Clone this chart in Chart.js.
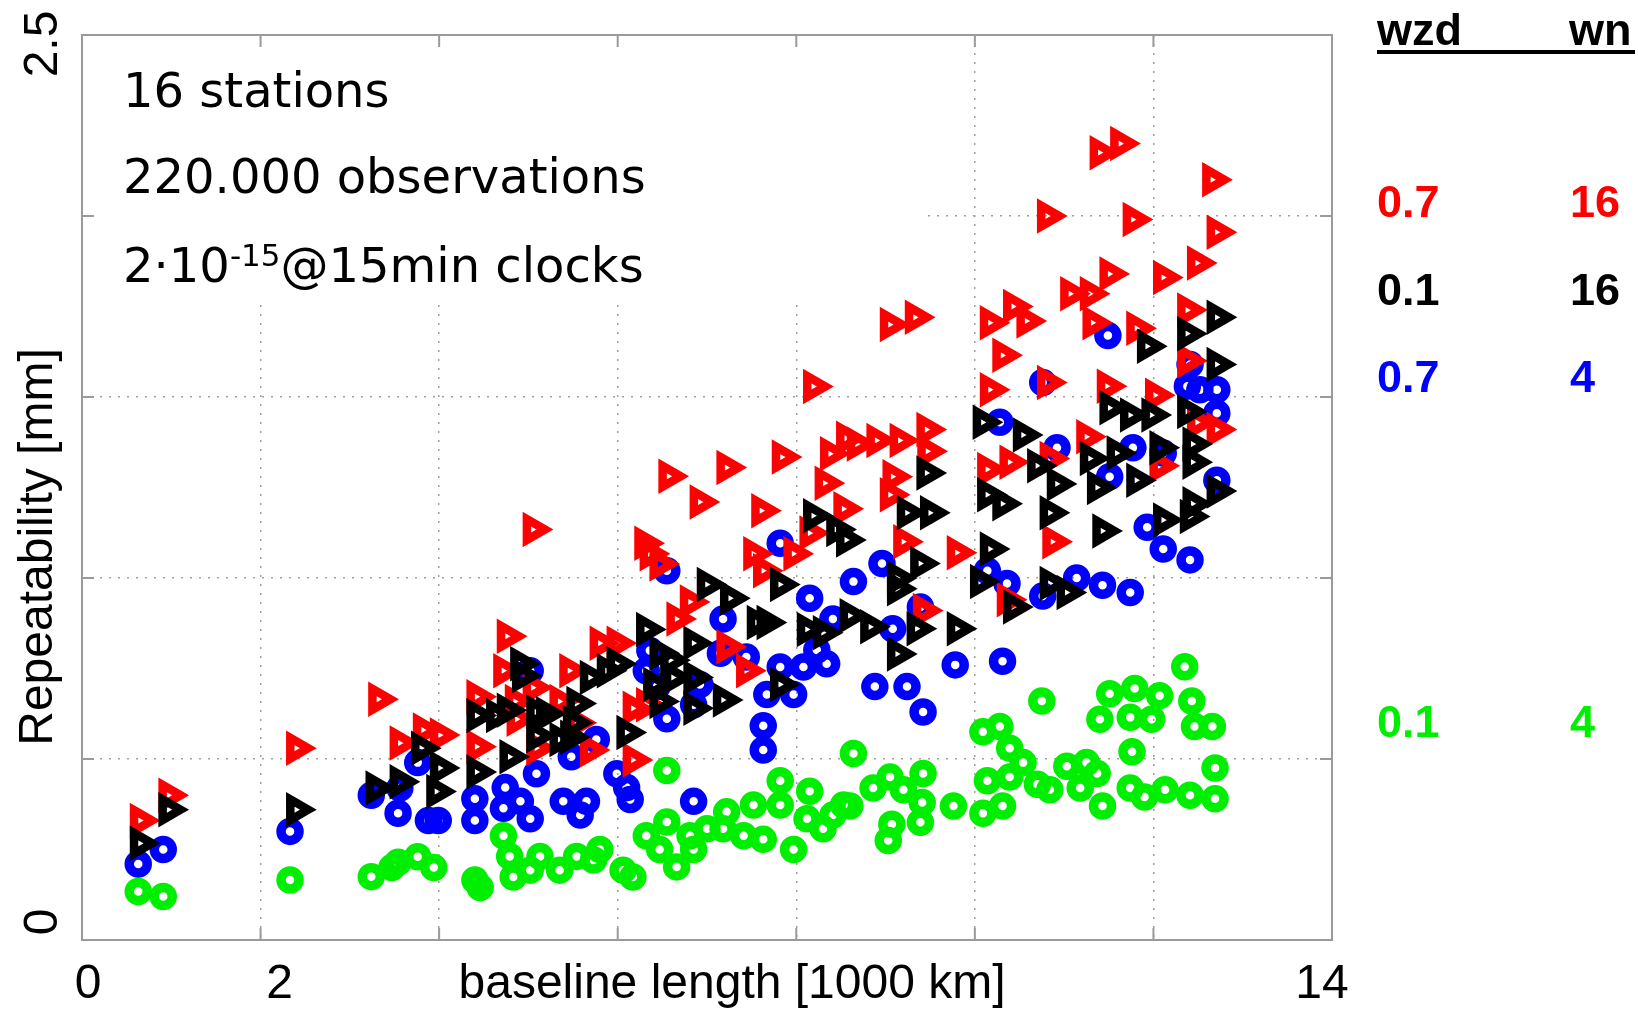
<!DOCTYPE html>
<html>
<head>
<meta charset="utf-8">
<script src="https://cdn.jsdelivr.net/npm/chart.js@4.4.1/dist/chart.umd.min.js"></script>
<style>
  html, body { margin: 0; padding: 0; background: #fff; }
  canvas { display: block; }
</style>
</head>
<body>
<canvas id="chart" width="1638" height="1009"></canvas>
<script>
// wzd 0.7 / wn 16
const redPts = [
  [0.65,0.33],[0.97,0.40],[2.40,0.53],[3.32,0.665],[3.56,0.544],[3.82,0.58],[4.01,0.566],[4.42,0.672],[4.42,0.534],
  [5.05,1.134],[6.57,1.281],[6.92,1.21],[7.22,1.305],[7.84,1.334],[7.61,1.186],[8.19,1.529],[8.38,1.343],[8.56,1.386],
  [8.32,1.262],[8.53,1.191],[6.30,1.096],[6.36,1.067],[6.47,1.039],[7.52,1.067],[7.63,1.02],[7.97,1.067],[8.15,1.124],
  [4.76,0.839],[4.72,0.744],[4.85,0.659],[5.05,0.697],[5.46,0.744],[5.35,0.659],[5.80,0.82],[5.99,0.82],[6.17,0.64],
  [6.17,0.497],[5.69,0.525],[6.81,0.934],[6.66,0.887],[7.22,0.81],[7.44,0.744],
  [4.87,0.61],[5.09,0.53],[6.32,0.65],[5.54,0.60],
  [11.40,2.175],[11.63,2.20],[12.66,2.10],[10.81,2.00],[11.77,1.99],[12.71,1.955],[12.49,1.87],[12.11,1.83],[11.51,1.84],
  [11.07,1.785],[11.29,1.785],[9.05,1.70],[9.33,1.72],[10.17,1.705],[10.43,1.75],[10.58,1.71],[10.31,1.615],[11.32,1.705],
  [11.81,1.69],[12.38,1.74],[10.81,1.54],[10.17,1.52],[11.48,1.53],[12.02,1.505],[12.38,1.60],[12.49,1.43],[12.71,1.41],
  [9.46,1.41],[9.16,1.38],[8.90,1.38],[8.68,1.37],[9.47,1.35],[9.08,1.28],[10.14,1.30],[10.39,1.32],[11.25,1.39],
  [10.84,1.33],[12.07,1.31],[9.05,1.23],[9.80,1.07],[9.42,0.91],[10.87,1.10],[10.36,0.94],[9.20,1.10]
];
// wzd 0.1 / wn 16
const blackPts = [
  [0.65,0.267],[0.97,0.36],[2.40,0.36],[3.29,0.42],[3.56,0.437],[3.80,0.53],[4.01,0.475],[3.97,0.41],[4.42,0.62],[4.42,0.464],
  [4.64,0.62],[4.91,0.763],[5.09,0.63],[4.79,0.506],[5.09,0.564],[5.35,0.554],[5.50,0.60],[5.69,0.725],[5.88,0.744],
  [6.10,0.573],[5.99,0.763],[6.32,0.858],[6.47,0.792],[6.47,0.659],[6.62,0.725],[6.85,0.82],[6.85,0.725],[6.85,0.64],
  [7.18,0.663],[7.00,0.982],[7.26,0.944],[7.56,0.877],[7.82,0.982],[7.67,0.877],[8.12,0.858],[7.82,0.706],[8.19,1.172],
  [8.45,1.134],[8.56,1.105],[8.60,0.896],[8.30,0.849],[6.40,0.706],
  [4.93,0.73],[4.76,0.635],[5.20,0.625],[5.54,0.653],[5.47,0.56],[6.59,0.773],
  [12.71,1.72],[12.38,1.675],[11.93,1.64],[12.71,1.59],[11.51,1.47],[11.74,1.45],[11.98,1.45],[12.38,1.46],[10.09,1.43],
  [10.54,1.395],[9.46,1.29],[12.44,1.37],[12.07,1.36],[12.44,1.32],[11.29,1.33],[11.59,1.345],[10.70,1.31],[10.92,1.26],
  [9.24,1.18],[9.50,1.18],[10.14,1.23],[10.31,1.205],[11.37,1.25],[11.81,1.27],[12.44,1.205],[12.71,1.24],
  [9.80,0.86],[9.13,0.79],[9.35,0.86],[8.83,0.865],[9.13,1.00],[9.13,0.97],[9.39,1.04],[10.43,0.92],[10.06,0.99],
  [10.17,1.08],[10.84,0.985],[11.03,0.96],[11.43,1.13],[12.11,1.16],[12.41,1.17],[10.84,1.18]
];
// wzd 0.7 / wn 4
const bluePts = [
  [0.63,0.21],[0.91,0.25],[2.33,0.30],[3.24,0.40],[3.56,0.42],[3.54,0.35],[3.88,0.33],[3.99,0.33],[3.76,0.49],[4.40,0.39],[4.40,0.33],
  [4.72,0.364],[4.91,0.383],[5.02,0.335],[4.74,0.421],[5.09,0.459],[5.39,0.383],[5.58,0.345],[5.65,0.383],[5.76,0.554],
  [5.99,0.459],[6.10,0.421],[6.14,0.388],[6.85,0.383],[5.48,0.506],[5.02,0.744],[6.32,0.744],[6.55,0.611],[6.85,0.65],
  [6.92,0.706],[7.15,0.792],[7.18,0.887],[7.44,0.782],[7.63,0.592],[7.63,0.525],[7.67,0.678],[7.97,0.678],[7.82,0.754],
  [8.08,0.754],[8.34,0.763],[8.23,0.801],[8.15,0.944],[8.41,0.887],[7.82,1.096],[6.55,1.02],[6.36,0.80],[6.44,0.70],
  [11.49,1.67],[10.76,1.54],[12.41,1.59],[12.38,1.53],[12.52,1.52],[12.71,1.52],[12.71,1.455],[10.28,1.43],[10.92,1.36],
  [11.77,1.36],[12.11,1.345],[12.71,1.27],[11.51,1.28],
  [12.11,1.08],[12.41,1.05],[11.14,1.00],[11.43,0.98],[11.74,0.96],[10.76,0.95],[10.36,0.985],[10.14,1.02],[10.31,0.77],
  [9.78,0.76],[9.42,0.63],[8.88,0.70],[9.24,0.70],[8.64,0.99],[8.96,1.04],[9.39,0.92],[11.93,1.14],[9.08,0.86]
];
// wzd 0.1 / wn 4
const greenPts = [
  [0.63,0.134],[0.91,0.12],[2.33,0.166],[3.24,0.175],[3.47,0.20],[3.54,0.215],[3.76,0.23],[3.94,0.20],[4.40,0.166],[4.46,0.145],
  [6.55,0.468],[4.72,0.288],[4.79,0.231],[4.83,0.174],[5.02,0.193],[5.13,0.231],[5.35,0.193],[5.54,0.231],[5.73,0.221],
  [5.80,0.25],[6.06,0.193],[6.17,0.174],[6.32,0.288],[6.47,0.25],[6.55,0.326],[6.66,0.202],[6.81,0.288],[6.85,0.25],
  [7.00,0.307],[7.18,0.307],[7.22,0.354],[7.41,0.288],[7.52,0.373],[7.63,0.278],[7.82,0.44],[7.82,0.373],[7.97,0.25],
  [8.12,0.335],[8.15,0.411],[8.30,0.307],[8.41,0.345],[8.53,0.373],
  [12.35,0.755],[10.75,0.66],[11.51,0.68],[11.79,0.695],[12.07,0.675],[11.40,0.61],[11.74,0.615],[11.98,0.61],[12.43,0.66],
  [12.46,0.59],[12.66,0.59],[11.76,0.52],[12.69,0.475],[10.09,0.575],[10.28,0.59],[10.39,0.53],[10.54,0.49],[10.39,0.45],
  [10.14,0.44],[10.09,0.35],[10.31,0.37],[10.70,0.43],[10.84,0.415],[11.03,0.48],[11.18,0.42],[11.25,0.49],[11.37,0.46],
  [11.43,0.37],[11.74,0.42],[11.90,0.395],[12.13,0.415],[12.41,0.40],[12.69,0.39],[8.64,0.515],[8.86,0.42],[9.05,0.45],
  [9.42,0.46],[9.20,0.415],[9.41,0.38],[9.07,0.32],[9.03,0.275],[9.39,0.325],[9.76,0.37],[8.60,0.37]
];

const xTicks = [0, 2, 14];
const yTicks = [0, 2.5];
const xTitle = 'baseline length [1000 km]';
const yTitle = 'Repeatability [mm]';
const notes = ['16 stations', '220.000 observations'];
const tableHead = ['wzd', 'wn'];
const wzd = ['0.7', '0.1', '0.7', '0.1'];
const wn = ['16', '16', '4', '4'];
const colors = ['#ff0000', '#000000', '#0000ff', '#00ee00'];

const toXY = pts => pts.map(p => ({x: p[0], y: p[1]}));

const tri = (pts, color, order) => ({
  data: toXY(pts),
  showLine: false,
  pointStyle: 'triangle',
  pointRotation: 90,
  pointRadius: 12,
  pointBorderWidth: 8.5,
  pointBorderColor: color,
  pointBackgroundColor: 'rgba(0,0,0,0)',
  order: order
});
const ring = (pts, color, order) => ({
  data: toXY(pts),
  showLine: false,
  pointStyle: 'circle',
  pointRadius: 9,
  pointBorderWidth: 9.5,
  pointBorderColor: color,
  pointBackgroundColor: 'rgba(0,0,0,0)',
  order: order
});

const frame = {
  id: 'frame',
  beforeDatasetsDraw(chart) {
    const {ctx, chartArea: a, scales: {x, y}} = chart;
    ctx.save();
    // white box behind the notes hides the grid there
    ctx.fillStyle = '#fff';
    ctx.fillRect(a.left, a.top, 923 - a.left, 300 - a.top);
    ctx.strokeStyle = '#9a9a9a';
    ctx.lineWidth = 2;
    ctx.beginPath();
    for (let v = 2; v < 14; v += 2) {
      const px = x.getPixelForValue(v);
      ctx.moveTo(px, a.top); ctx.lineTo(px, a.top + 12);
      ctx.moveTo(px, a.bottom); ctx.lineTo(px, a.bottom - 12);
    }
    for (let v = 0.5; v < 2.5; v += 0.5) {
      const py = y.getPixelForValue(v);
      ctx.moveTo(a.left, py); ctx.lineTo(a.left + 12, py);
      ctx.moveTo(a.right, py); ctx.lineTo(a.right - 12, py);
    }
    ctx.stroke();
    ctx.strokeRect(a.left, a.top, a.right - a.left, a.bottom - a.top);
    ctx.restore();
  },
  afterDraw(chart) {
    const {ctx, scales: {x, y}} = chart;
    ctx.save();
    ctx.fillStyle = '#000';

    // x ticks and title share one row
    ctx.font = '48px "Liberation Sans", Arial, sans-serif';
    ctx.textBaseline = 'alphabetic';
    ctx.textAlign = 'center';
    const xNudge = [6, 19, -10];
    xTicks.forEach((v, i) => ctx.fillText(String(v), x.getPixelForValue(v) + xNudge[i], 998));
    ctx.fillText(xTitle, 732, 998);

    // rotated y ticks and title
    const yNudge = [-18, 9];
    yTicks.forEach((v, i) => {
      ctx.save();
      ctx.translate(57, y.getPixelForValue(v) + yNudge[i]);
      ctx.rotate(-Math.PI / 2);
      ctx.fillText(String(v), 0, 0);
      ctx.restore();
    });
    ctx.save();
    ctx.translate(52, 547);
    ctx.rotate(-Math.PI / 2);
    ctx.fillText(yTitle, 0, 0);
    ctx.restore();

    // notes in the upper left
    ctx.textAlign = 'left';
    ctx.font = '48px "DejaVu Sans", sans-serif';
    ctx.fillText(notes[0], 123, 107);
    ctx.fillText(notes[1], 123, 193);
    let cx = 123;
    ctx.fillText('2\u00b710', cx, 282);
    cx += ctx.measureText('2\u00b710').width;
    ctx.font = '31px "DejaVu Sans", sans-serif';
    ctx.fillText('-15', cx, 266);
    cx += ctx.measureText('-15').width;
    ctx.font = '48px "DejaVu Sans", sans-serif';
    ctx.fillText('@15min clocks', cx, 282);

    // side table
    ctx.font = 'bold 45px "Liberation Sans", Arial, sans-serif';
    ctx.fillText(tableHead[0], 1377, 45);
    ctx.fillText(tableHead[1], 1569, 45);
    ctx.fillRect(1377, 50, 258, 4);
    const rowBase = [217, 305, 392, 737];
    wzd.forEach((t, i) => {
      ctx.fillStyle = colors[i];
      ctx.fillText(t, 1377, rowBase[i]);
      ctx.fillText(wn[i], 1570, rowBase[i]);
    });
    ctx.restore();
  }
};

new Chart(document.getElementById('chart'), {
  type: 'scatter',
  data: {
    datasets: [
      tri(redPts, colors[0], 1),
      tri(blackPts, colors[1], 0),
      ring(bluePts, colors[2], 2),
      ring(greenPts, colors[3], 3)
    ]
  },
  options: {
    responsive: false,
    animation: false,
    devicePixelRatio: 1,
    layout: { padding: { left: 82, top: 35, right: 306, bottom: 69 } },
    plugins: {
      legend: { display: false },
      tooltip: { enabled: false }
    },
    scales: {
      x: {
        type: 'linear', min: 0, max: 14,
        ticks: { display: false, stepSize: 2 },
        grid: { drawTicks: false, color: '#a0a0a0', lineWidth: 1.5 },
        border: { display: false, dash: [2, 7] }
      },
      y: {
        type: 'linear', min: 0, max: 2.5,
        ticks: { display: false, stepSize: 0.5 },
        grid: { drawTicks: false, color: '#a0a0a0', lineWidth: 1.5 },
        border: { display: false, dash: [2, 7] }
      }
    }
  },
  plugins: [frame]
});
</script>
</body>
</html>
